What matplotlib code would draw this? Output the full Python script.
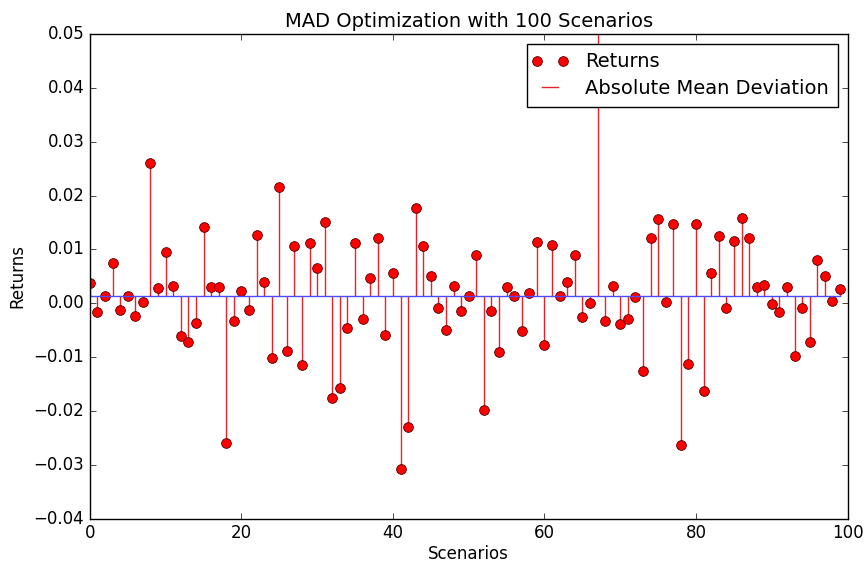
import numpy as np
import matplotlib
matplotlib.use('Agg')
import matplotlib.pyplot as plt
from matplotlib.lines import Line2D
from matplotlib.legend_handler import HandlerLine2D

# returns per scenario
returns = [
    0.0037, -0.0016, 0.0014, 0.0074, -0.0012, 0.0014, -0.0023, 0.0002, 0.0260, 0.0029,
    0.0096, 0.0032, -0.0061, -0.0071, -0.0036, 0.0141, 0.0030, 0.0030, -0.0259, -0.0032,
    0.0022, -0.0012, 0.0127, 0.0039, -0.0102, 0.0216, -0.0089, 0.0106, -0.0115, 0.0112,
    0.0066, 0.0150, -0.0175, -0.0158, -0.0045, 0.0112, -0.0030, 0.0047, 0.0121, -0.0058,
    0.0057, -0.0307, -0.0229, 0.0176, 0.0106, 0.0050, -0.0009, -0.0050, 0.0032, -0.0014,
    0.0014, 0.0090, -0.0198, -0.0014, -0.0091, 0.0031, 0.0013, -0.0051, 0.0020, 0.0113,
    -0.0078, 0.0108, 0.0013, 0.0039, 0.0090, -0.0025, 0.0000, 0.0650, -0.0033, 0.0033,
    -0.0038, -0.0030, 0.0011, -0.0126, 0.0121, 0.0157, 0.0003, 0.0148, -0.0262, -0.0113,
    0.0148, -0.0163, 0.0057, 0.0125, -0.0009, 0.0116, 0.0158, 0.0121, 0.0030, 0.0034,
    -0.0001, -0.0017, 0.0030, -0.0098, -0.0009, -0.0071, 0.0081, 0.0050, 0.0004, 0.0026,
]
mean_return = 0.0014
scenarios = np.arange(len(returns))

plt.style.use('classic')
plt.rcParams['font.family'] = ['DejaVu Sans']

fig = plt.figure(figsize=(8.64, 5.64), dpi=100, facecolor='white')
ax = fig.add_axes([0.104, 0.080, 0.877, 0.860])

markers, stems, base = ax.stem(scenarios, returns, linefmt='r-', markerfmt='ro',
                               basefmt='b-', bottom=mean_return)
plt.setp(markers, markersize=7, markeredgecolor='#500000', markeredgewidth=0.6)
plt.setp(stems, linewidth=1.0, color='#e8222a')
plt.setp(base, linewidth=1.0, color='#4b4bff')

ax.set_xlim(0, 100)
ax.set_ylim(-0.04, 0.05)
ax.set_xticks(np.arange(0, 101, 20))
ax.set_yticks(np.arange(-0.04, 0.0501, 0.01))
ax.yaxis.set_major_formatter(matplotlib.ticker.FuncFormatter(
    lambda v, pos: ('%.2f' % v).replace('-', '\u2212')))

ax.set_title('MAD Optimization with 100 Scenarios', fontsize=14)
ax.set_xlabel('Scenarios', fontsize=12, labelpad=2)
ax.set_ylabel('Returns', fontsize=12)

# legend built by hand, like the old style: two dots + a red line
h1 = Line2D([], [], linestyle='none', marker='o', color='r', markersize=7,
            markeredgecolor='#500000', markeredgewidth=0.6)
h2 = Line2D([], [], color='#e8222a', linewidth=1.0)
ax.legend([h1, h2], ['Returns', 'Absolute Mean Deviation'], loc='upper right',
          numpoints=2, fontsize=14, fancybox=False, framealpha=1,
          borderaxespad=0.5, handlelength=1.45, handletextpad=1.1,
          borderpad=0.45, labelspacing=0.4,
          handler_map={h1: HandlerLine2D(marker_pad=0.05, numpoints=2)})

fig.savefig('out.png', dpi=100, facecolor='white')
